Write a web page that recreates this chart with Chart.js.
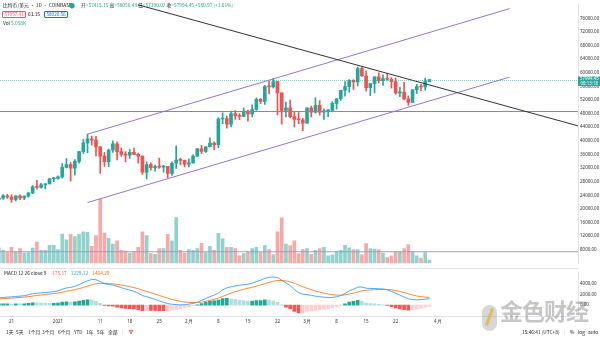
<!DOCTYPE html>
<html>
<head>
<meta charset="utf-8">
<script src="https://cdn.jsdelivr.net/npm/chart.js@4.4.0/dist/chart.umd.min.js"></script>
<style>
html, body { margin: 0; padding: 0; background: #fff; }
body { width: 600px; height: 338px; position: relative; overflow: hidden;
       font-family: "Noto Sans CJK SC", "Noto Sans", sans-serif; color: #131722; }
canvas { position: absolute; left: 0; }
#main { top: 0; }
#macd { top: 268px; }
.t { position: absolute; font-size: 4.8px; line-height: 1; white-space: nowrap; }
.up { color: #26a69a; }
.box { position: absolute; font-size: 4.6px; line-height: 5px; padding: 0 1.5px; border: 0.6px solid; border-radius: 1px; }
#sep { position: absolute; left: 0; top: 268px; width: 578px; height: 1px; background: #e0e3eb; }
#wm { position: absolute; left: 500px; top: 299px; font-size: 23px; font-weight: bold; letter-spacing: -1px;
      color: rgba(120,120,120,0.42); line-height: 1; }
#logo { position: absolute; left: 482px; top: 305px; width: 15px; height: 26px; border-radius: 8px;
        background: rgba(140,140,140,0.35); }
#logo i { position: absolute; left: 6px; top: 3px; width: 3px; height: 18px; background: rgba(230,180,60,0.8);
          transform: rotate(20deg); }
</style>
</head>
<body>
<canvas id="main" width="600" height="268"></canvas>
<div id="sep"></div>
<canvas id="macd" width="600" height="62"></canvas>

<div class="t" style="left:3px;top:3px;">比特币/美元 · 1D · COINBASE</div>
<div class="t up" style="left:69px;top:2.5px;font-size:6px;">●</div>
<div class="t" style="left:81px;top:3px;">开<span class="up">=57415.15</span> 高<span class="up">=58056.43</span> 低<span class="up">=57390.02</span> 收<span class="up">=57994.45 +580.97 (+1.01%)</span></div>
<div class="box" style="left:2px;top:11px;color:#ef5350;border-color:#ef5350;">57957.41</div>
<div class="t" style="left:28px;top:12px;">63.15</div>
<div class="box" style="left:44px;top:11px;color:#2962ff;border-color:#2962ff;">58020.56</div>
<div class="t" style="left:3px;top:21px;">Vol <span class="up">5.058K</span></div>

<div class="t" style="left:4px;top:271px;">MACD 12 26 close 9 <span style="color:#ff5252;margin-left:3px;">-175.17</span> <span style="color:#2196f3;margin-left:3px;">1229.12</span> <span style="color:#ff6d00;margin-left:3px;">1404.29</span></div>

<div class="t" style="left:6px;top:330px;">1天</div>
<div class="t" style="left:16px;top:330px;">5天</div>
<div class="t" style="left:28px;top:330px;">1个月</div>
<div class="t" style="left:42px;top:330px;">3个月</div>
<div class="t" style="left:58px;top:330px;">6个月</div>
<div class="t" style="left:74px;top:330px;">YTD</div>
<div class="t" style="left:86px;top:330px;">1年</div>
<div class="t" style="left:97px;top:330px;">5年</div>
<div class="t" style="left:108px;top:330px;">全部</div>
<div class="t" style="left:122px;top:330px;color:#ccc;">|</div>
<div class="t" style="left:128px;top:330px;">📅</div>
<div class="t" style="left:522px;top:330px;">15:46:41 (UTC+8)</div>
<div class="t" style="left:564px;top:330px;color:#ccc;">|</div>
<div class="t" style="left:570px;top:330px;">%</div>
<div class="t" style="left:578px;top:330px;">log</div>
<div class="t" style="left:588px;top:330px;">auto</div>

<div id="logo"><i></i></div>
<div id="wm">金色财经</div>

<script>
// daily candles, Coinbase BTC/USD
const dates = [
  '2020-12-18','2020-12-19','2020-12-20','2020-12-21','2020-12-22','2020-12-23','2020-12-24','2020-12-25',
  '2020-12-26','2020-12-27','2020-12-28','2020-12-29','2020-12-30','2020-12-31',
  '2021-01-01','2021-01-02','2021-01-03','2021-01-04','2021-01-05','2021-01-06','2021-01-07','2021-01-08',
  '2021-01-09','2021-01-10','2021-01-11','2021-01-12','2021-01-13','2021-01-14','2021-01-15','2021-01-16',
  '2021-01-17','2021-01-18','2021-01-19','2021-01-20','2021-01-21','2021-01-22','2021-01-23','2021-01-24',
  '2021-01-25','2021-01-26','2021-01-27','2021-01-28','2021-01-29','2021-01-30','2021-01-31',
  '2021-02-01','2021-02-02','2021-02-03','2021-02-04','2021-02-05','2021-02-06','2021-02-07','2021-02-08',
  '2021-02-09','2021-02-10','2021-02-11','2021-02-12','2021-02-13','2021-02-14','2021-02-15','2021-02-16',
  '2021-02-17','2021-02-18','2021-02-19','2021-02-20','2021-02-21','2021-02-22','2021-02-23','2021-02-24',
  '2021-02-25','2021-02-26','2021-02-27','2021-02-28',
  '2021-03-01','2021-03-02','2021-03-03','2021-03-04','2021-03-05','2021-03-06','2021-03-07','2021-03-08',
  '2021-03-09','2021-03-10','2021-03-11','2021-03-12','2021-03-13','2021-03-14','2021-03-15','2021-03-16',
  '2021-03-17','2021-03-18','2021-03-19','2021-03-20','2021-03-21','2021-03-22','2021-03-23','2021-03-24',
  '2021-03-25','2021-03-26','2021-03-27','2021-03-28','2021-03-29','2021-03-30'
];
const openP = [
  22800,23150,23850,23480,22740,23820,23240,23730,24700,26450,26270,27030,27360,28860,
  28980,29400,32200,33000,31980,33950,36800,39400,40600,40200,38200,35500,33900,37300,39100,36800,
  36000,35800,36600,36000,35500,30800,33000,32100,32300,32250,32500,30400,33400,34300,34250,
  33100,33500,35500,37650,36900,38250,39300,38900,46400,46500,44900,48000,47400,47200,48700,47900,
  49200,52200,51600,55900,55870,57400,54100,48900,49700,47100,46300,46200,
  45200,49600,48400,50400,48400,48800,48900,51000,52350,54850,55900,57800,57300,61200,59050,55600,
  56800,58800,57700,58300,58100,57400,54100,54300,52300,51300,55000,55900,55800,57415
];
const highP = [
  23300,24170,24300,24100,23850,24100,23800,24780,26850,28420,27500,27400,28990,29300,
  29680,33300,34800,33600,34500,36940,40400,41950,41400,41350,38300,36600,37600,40000,39700,37900,
  36800,37400,37850,36400,35600,33800,33500,32900,34900,32800,32500,33800,38500,34900,34300,
  34700,35900,37700,38700,38300,40900,39700,46800,48200,47300,48700,48900,48000,49700,49000,50600,
  52600,52500,56300,57500,58350,57500,54200,51400,52000,48400,48300,46600,
  49800,50200,52600,51800,49400,49200,51500,52400,54900,57400,58000,58000,61700,61600,60600,56900,
  58900,60000,59400,59800,58600,58400,55800,57200,53200,55100,56600,56600,58400,58056
];
const lowP = [
  22350,22800,23060,21900,22350,22700,22720,23430,24500,25800,26100,25850,27320,28000,
  28700,29000,32000,28130,29900,33400,36300,36500,38700,35550,30400,32500,32400,36600,34400,35400,
  33800,34800,35900,33400,30100,28800,31400,31100,31900,30800,29200,29800,31900,32900,32300,
  32300,33400,35400,36200,36600,38200,37400,38000,45000,43700,44100,46300,46200,47100,45800,47000,
  48900,50900,50700,53800,55500,47600,44900,47000,46800,44100,45000,43000,
  45100,47000,48100,47500,46300,47100,48800,49300,51900,53100,54300,55100,56100,58950,54600,53300,
  54100,57000,56300,57800,55500,53700,53000,52000,50400,51200,53900,54700,54900,57390
];
const closeP = [
  23150,23850,23480,22740,23820,23240,23730,24700,26450,26270,27030,27360,28860,28980,
  29400,32200,33000,31980,33950,36800,39400,40600,40200,38200,35500,33900,37300,39100,36800,36000,
  35800,36600,36000,35500,30800,33000,32100,32300,32250,32500,30400,33400,34300,34250,33100,
  33500,35500,37650,36900,38250,39300,38900,46400,46500,44900,48000,47400,47200,48700,47900,49200,
  52200,51600,55900,55870,57400,54100,48900,49700,47100,46300,46200,45200,
  49600,48400,50400,48400,48800,48900,51000,52350,54850,55900,57800,57300,61200,59050,55600,56800,
  58800,57700,58300,58100,57400,54100,54300,52300,51300,55000,55900,55800,57415,57994.45
];
// volume, thousand BTC
const volumeK = [
  24,20,16.5,25,17.5,23,16,16.5,23.5,33, 20,20,28,28,21.5,45.5,36.5,45,41.5,45,
  49,48,26.5,43,100,47,39,30,35,20, 19,16,18,25,49,43,15,14,23,23,
  45,35,71,20,16,21.5,20,23,31,16.5, 26.5,20,46.5,38,25,25,23,11.5,15,18,
  23,25,16.5,27.5,21.5,13,49,70.5,30,27.5, 35,15,21.5,23,14,20,23,25,11.5,13,
  17.5,20,28,24,21.5,21.5,13,30.5,23,22, 21,16,9,11.5,18,18,23,29,18,11.5,
  8,16.5,5
];
// MACD 12 26 9
const macdLine = [
  1390,1450,1520,1560,1640,1700,1780,1950,2150,2250, 2330,2390,2450,2560,2700,3000,3250,3350,3550,3900,
  4250,4600,4830,4800,4450,4050,3900,3800,3560,3300, 3050,2850,2600,2280,1800,1600,1350,1100,800,520,
  300,180,120,60,80,200,330,560,900,1250, 1600,1900,2300,2900,3250,3480,3620,3750,3850,3950,
  4150,4450,4700,5050,5250,5330,5200,4700,4200,3700, 2950,2350,2050,2000,1850,1700,1600,1500,1450,1450,
  1600,1800,2200,2700,3000,3400,3420,3200,3150,3150, 3100,3050,2900,2600,2250,1900,1550,1200,1050,1000,
  1050,1120,1229
];
const signalLine = [
  1158,1216,1277,1334,1395,1456,1521,1607,1716,1823, 1924,2017,2104,2195,2296,2437,2600,2750,2910,3108,
  3336,3589,3837,4030,4114,4101,4061,4009,3919,3795, 3646,3487,3310,3104,2843,2594,2345,2096,1837,1574,
  1319,1091,897,730,600,520,482,498,578,712, 890,1092,1334,1647,1968,2270,2540,2782,2996,3187,
  3380,3594,3815,4062,4300,4506,4645,4656,4565,4392, 4134,3807,3476,3181,2915,2672,2458,2266,2103,1972,
  1898,1878,1942,2094,2275,2500,2684,2787,2860,2918, 2954,2973,2958,2887,2760,2588,2380,2144,1925,1740,
  1602,1506,1451
];
const macdHist = [
  232,234,243,226,245,244,259,343,434,427, 406,373,346,365,404,563,650,600,640,792,
  914,1011,993,770,336,-51,-161,-209,-359,-495, -596,-637,-710,-824,-1043,-994,-995,-996,-1037,-1054,
  -1019,-911,-777,-670,-520,-320,-152,62,322,538, 710,808,966,1253,1282,1210,1080,968,854,763,
  770,856,885,988,950,824,555,44,-365,-692, -1184,-1457,-1426,-1181,-1065,-972,-858,-766,-653,-522,
  -298,-78,258,606,725,900,736,413,290,232, 146,77,-58,-287,-510,-688,-830,-944,-875,-740,
  -552,-386,-222
];

const timeTickDates = ['2020-12-21','2021-01-01','2021-01-11','2021-01-18','2021-01-25','2021-02-01','2021-02-08',
  '2021-02-15','2021-02-22','2021-03-01','2021-03-08','2021-03-15','2021-03-22','2021-04-01'];
const timeTickLabels = ['21','2021','11','18','25','2月','8','15','22','3月','8','15','22','4月'];
const priceTicks = [8000,12000,16000,20000,24000,28000,32000,36000,40000,44000,48000,52000,56000,
  60000,64000,68000,72000,76000];
const macdTicks = [0, 2000, 4000];

// drawings: [date, price]
const channelUpper = [['2021-01-08', 41950], ['2021-04-18', 78850]];
const channelLower = [['2021-01-08', 21860], ['2021-04-18', 58720]];
const downTrend = [['2021-01-19', 80300], ['2021-05-05', 44125]];
const levelHigh = [['2020-12-01', 48600], ['2021-05-10', 48600]];
const levelLow = [['2020-12-01', 7400], ['2021-05-10', 7400]];

const UP = '#26a69a', DOWN = '#ef5350';
const FONT = 'Noto Sans';
const t0 = Date.parse('2021-01-01T00:00:00Z');
const dayNum = s => (Date.parse(s + 'T00:00:00Z') - t0) / 864e5;
const xMin = -13.74, xMax = 123.2;
const tickDays = timeTickDates.map(dayNum);

const isUp = i => closeP[i] >= openP[i];
const pts = arr => arr.map(p => ({ x: dayNum(p[0]), y: p[1] }));
const lineSet = (arr, color) => ({
  type: 'line', data: pts(arr), borderColor: color, borderWidth: 1,
  pointRadius: 0, order: 0, yAxisID: 'y'
});

const lastPrice = {
  id: 'lastPrice',
  afterDraw(chart) {
    const { ctx, chartArea, scales } = chart;
    const last = closeP[closeP.length - 1];
    const py = Math.round(scales.y.getPixelForValue(last)) + 0.5;
    ctx.save();
    ctx.strokeStyle = 'rgba(38,166,154,0.55)';
    ctx.lineWidth = 1;
    ctx.setLineDash([1, 1]);
    ctx.beginPath();
    ctx.moveTo(chartArea.left, py);
    ctx.lineTo(chartArea.right, py);
    ctx.stroke();
    ctx.setLineDash([]);
    ctx.fillStyle = UP;
    ctx.fillRect(chartArea.right, py - 4, 22, 9.5);
    ctx.fillStyle = '#fff';
    ctx.font = '4.4px "' + FONT + '"';
    ctx.textBaseline = 'middle';
    ctx.fillText(last.toFixed(2), chartArea.right + 2, py - 1.5);
    ctx.fillText('08:13:18', chartArea.right + 2.5, py + 2.8);
    ctx.restore();
  }
};

const rightAxis = (ticks) => ({
  position: 'right',
  grid: { display: false, drawTicks: false },
  border: { color: '#e0e3eb' },
  afterBuildTicks: s => { s.ticks = ticks.map(v => ({ value: v })); },
  afterFit: s => { s.width = 22; },
  ticks: { autoSkip: false, padding: 2, color: '#333', font: { family: FONT, size: 4.5 },
           callback: v => v.toFixed(2) }
});

new Chart(document.getElementById('main'), {
  type: 'bar',
  data: {
    datasets: [
      lineSet(downTrend, '#333'),
      lineSet(channelUpper, '#9575cd'),
      lineSet(channelLower, '#9575cd'),
      lineSet(levelHigh, '#9575cd'),
      lineSet(levelLow, '#a59cc4'),
      {
        data: dates.map((d, i) => ({ x: dayNum(d), y: [openP[i], closeP[i]] })),
        backgroundColor: c => isUp(c.dataIndex) ? UP : DOWN,
        barThickness: 3, minBarLength: 1, grouped: false, order: 1, yAxisID: 'y'
      },
      {
        data: dates.map((d, i) => ({ x: dayNum(d), y: [lowP[i], highP[i]] })),
        backgroundColor: c => isUp(c.dataIndex) ? UP : DOWN,
        barThickness: 1, grouped: false, order: 2, yAxisID: 'y'
      },
      {
        data: dates.map((d, i) => ({ x: dayNum(d), y: volumeK[i] })),
        backgroundColor: c => isUp(c.dataIndex) ? 'rgba(38,166,154,0.5)' : 'rgba(239,83,80,0.5)',
        barThickness: 3, grouped: false, order: 3, yAxisID: 'yVol'
      }
    ]
  },
  options: {
    responsive: false, animation: false, events: [],
    layout: { padding: 0 },
    plugins: { legend: { display: false }, tooltip: { enabled: false } },
    scales: {
      x: { type: 'linear', min: xMin, max: xMax, offset: false, display: false },
      y: Object.assign(rightAxis(priceTicks), { min: 4000, max: 80000 }),
      yVol: { display: false, min: 0, max: 402 }
    }
  },
  plugins: [lastPrice]
});

new Chart(document.getElementById('macd'), {
  type: 'bar',
  data: {
    datasets: [
      { type: 'line', data: dates.map((d, i) => ({ x: dayNum(d), y: macdLine[i] })),
        borderColor: '#2196f3', borderWidth: 0.8, pointRadius: 0, order: 0 },
      { type: 'line', data: dates.map((d, i) => ({ x: dayNum(d), y: signalLine[i] })),
        borderColor: '#ff6d00', borderWidth: 0.8, pointRadius: 0, order: 1 },
      { data: dates.map((d, i) => ({ x: dayNum(d), y: macdHist[i] })),
        backgroundColor: c => {
          const i = c.dataIndex, h = macdHist[i], p = i > 0 ? macdHist[i - 1] : h;
          if (h >= 0) return h >= p ? '#26a69a' : '#b2dfdb';
          return h <= p ? '#ff5252' : '#ffcdd2';
        },
        barThickness: 3, grouped: false, order: 2 }
    ]
  },
  options: {
    responsive: false, animation: false, events: [],
    layout: { padding: 0 },
    plugins: { legend: { display: false }, tooltip: { enabled: false } },
    scales: {
      x: {
        type: 'linear', min: xMin, max: xMax, offset: false,
        grid: { display: false, drawTicks: false },
        border: { color: '#e0e3eb' },
        afterBuildTicks: s => { s.ticks = tickDays.map(v => ({ value: v })); },
        afterFit: s => { s.height = 14; },
        ticks: { autoSkip: false, maxRotation: 0, padding: 3, color: '#333',
                 font: { family: FONT, size: 4.5 },
                 callback: v => timeTickLabels[tickDays.indexOf(v)] }
      },
      y: Object.assign(rightAxis(macdTicks), { min: -2040, max: 6120 })
    }
  }
});
</script>
</body>
</html>
